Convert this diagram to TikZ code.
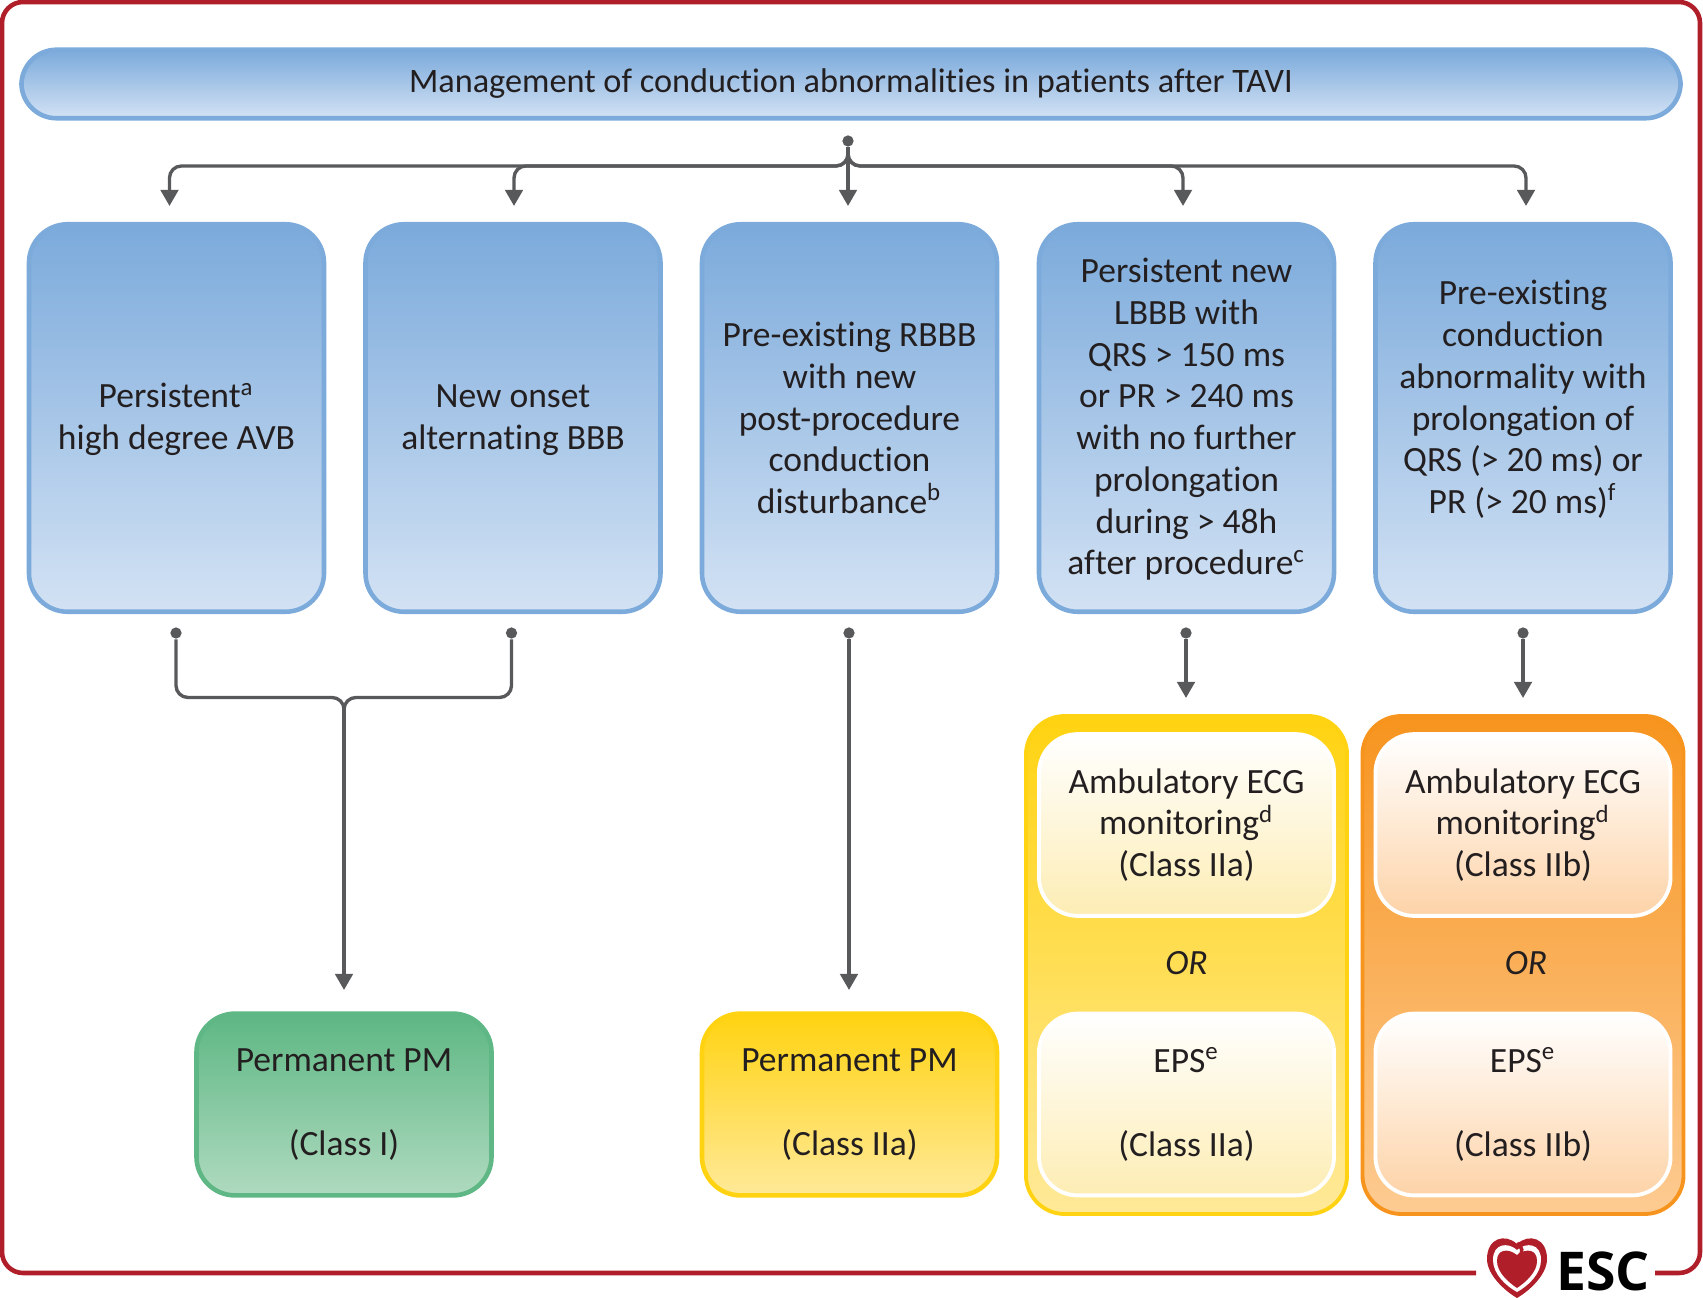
\documentclass[tikz,border=0pt]{standalone}
\usepackage{fontspec}
\setmainfont[Ligatures=NoCommon]{Carlito}
\newfontfamily\logofont{Open Sans}
\usetikzlibrary{shadings}
\usetikzlibrary{arrows.meta}
\definecolor{frameRed}{HTML}{B01E2A}
\definecolor{flowGrey}{HTML}{58595B}
\definecolor{inkBlack}{HTML}{231F20}
\definecolor{blueTop}{HTML}{7BAADB}
\definecolor{blueEnd}{HTML}{D3E2F4}
\definecolor{greenTop}{HTML}{5EB784}
\definecolor{greenEnd}{HTML}{AFDABF}
\definecolor{yellowTop}{HTML}{FFD311}
\definecolor{yellowEnd}{HTML}{FFE999}
\definecolor{paleYellow}{HTML}{FDEDB4}
\definecolor{orangeTop}{HTML}{F7941E}
\definecolor{orangeEnd}{HTML}{FDCB92}
\definecolor{paleOrange}{HTML}{FDD3A8}
\newcommand{\firstline}{\rule{0pt}{7.8pt}}
\tikzset{
    >={Triangle[length=4.6pt,width=5pt]},
    label text/.style={text=inkBlack,align=center,font=\fontsize{10.1}{11.87}\selectfont,inner sep=0pt},
    blue box/.style={label text,draw=blueTop,line width=1.3pt,rounded corners=11pt,top color=blueTop,bottom color=blueEnd,minimum width=83.9pt,minimum height=110.2pt},
    class box/.style={label text,line width=1.1pt,rounded corners=11pt,minimum width=83.9pt,minimum height=51.7pt},
    outer box/.style={line width=1.1pt,rounded corners=11pt,minimum width=91.3pt,minimum height=141.6pt},
    flow/.style={draw=flowGrey,line width=.95pt,rounded corners=3.4pt},
    dot/.style={circle,fill=flowGrey,inner sep=0pt,minimum size=3.2pt},
}
\begin{document}
\begin{tikzpicture}[x=.01cm,y=-.01cm]
    \useasboundingbox (0,0) rectangle (1703,1298);
    % frame with a gap for the logo
    \coordinate (frameStart) at (1476,1273);
    \coordinate (frameEnd) at (1655,1273);
    \draw[frameRed,line width=1.3pt,rounded corners=6pt] (frameStart) -- (2,1273) -- (2,2) -- (1700,2) -- (1700,1273) -- (frameEnd);
    % title
    \node[label text,font=\fontsize{9.75}{11.87}\selectfont,draw=blueTop,line width=1.3pt,rounded corners=10pt,top color=blueTop,bottom color=blueEnd,minimum width=471.8pt,minimum height=19.5pt] (title) at (851,84) {Management of conduction abnormalities in patients after TAVI};
    % upper row
    \node[blue box] (avb) at (176.5,418) {\firstline Persistent\textsuperscript{a}\\high degree AVB};
    \node[blue box] (bbb) at (513,418) {\firstline New onset\\alternating BBB};
    \node[blue box] (rbbb) at (849.5,418) {Pre-existing RBBB\\with new\\post-procedure\\conduction\\disturbance\textsuperscript{b}};
    \node[blue box] (lbbb) at (1186.5,418) {\firstline Persistent new\\LBBB with\\QRS > 150 ms\\or PR > 240 ms\\with no further\\prolongation\\during > 48h\\after procedure\textsuperscript{c}};
    \node[blue box] (pre) at (1523,418) {Pre-existing\\conduction\\abnormality with\\prolongation of\\QRS (> 20 ms) or\\PR (> 20 ms)\textsuperscript{f}\\~};
    % lower row
    \node[class box,line width=1.3pt,draw=greenTop,top color=greenTop,bottom color=greenEnd] (pmI) at (344,1104.5) {Permanent PM\\~\\(Class I)};
    \node[class box,line width=1.3pt,draw=yellowTop,top color=yellowTop,bottom color=yellowEnd] (pmII) at (849.5,1104.5) {Permanent PM\\~\\(Class IIa)};
    \node[outer box,draw=yellowTop,top color=yellowTop,bottom color=yellowEnd] (yellowBack) at (1186.5,965) {};
    \node[outer box,draw=orangeTop,top color=orangeTop,bottom color=orangeEnd] (orangeBack) at (1523,965) {};
    \node[class box,draw=white,top color=white,bottom color=paleYellow] (ecgA) at (1186.5,825) {Ambulatory ECG\\monitoring\textsuperscript{d}\\(Class IIa)};
    \node[class box,draw=white,top color=white,bottom color=paleOrange] (ecgB) at (1523,825) {Ambulatory ECG\\monitoring\textsuperscript{d}\\(Class IIb)};
    \node[class box,draw=white,top color=white,bottom color=paleYellow] (epsA) at (1186.5,1104.5) {EPS\textsuperscript{e}\\~\\(Class IIa)};
    \node[class box,draw=white,top color=white,bottom color=paleOrange] (epsB) at (1523,1104.5) {EPS\textsuperscript{e}\\~\\(Class IIb)};
    \node[label text,font=\fontsize{10.1}{11.87}\selectfont\itshape] (orA) at (1186.5,963) {OR};
    \node[label text,font=\fontsize{10.1}{11.87}\selectfont\itshape] (orB) at (1526,963) {OR};
    % arrows from the title
    \node[dot] (topDot) at (848,141) {};
    \coordinate (hub) at (848,157);
    \coordinate (hubLine) at (848,166);
    \foreach \name/\x in {tipA/169.5,tipB/514,tipC/848,tipD/1183,tipE/1526}
        \coordinate (\name) at (\x,206);
    \draw[flow,->] (hub) -- (hubLine) -| (tipA);
    \draw[flow,->] (hub) -- (hubLine) -| (tipB);
    \draw[flow,->] (topDot) -- (tipC);
    \draw[flow,->] (hub) -- (hubLine) -| (tipD);
    \draw[flow,->] (hub) -- (hubLine) -| (tipE);
    % arrows to the outcomes
    \foreach \name/\x in {dotA/176,dotB/511.5,dotC/849,dotD/1186,dotE/1523}
        \node[dot] (\name) at (\x,633) {};
    \coordinate (merge) at (344,697.5);
    \coordinate (mergeStem) at (344,708);
    \coordinate (mergeEnd) at (344,990);
    \draw[flow] (dotA) |- (merge) -- (mergeStem);
    \draw[flow] (dotB) |- (merge) -- (mergeStem);
    \draw[flow,->] (mergeStem) -- (mergeEnd);
    \coordinate (tipF) at (849,990);
    \coordinate (tipG) at (1186,698);
    \coordinate (tipH) at (1523,698);
    \draw[flow,->] (dotC) -- (tipF);
    \draw[flow,->] (dotD) -- (tipG);
    \draw[flow,->] (dotE) -- (tipH);
    % logo
    \fill[frameRed] (1517,1244) .. controls (1505,1233) and (1487,1238) .. (1487,1259) .. controls (1487,1275) and (1505,1291) .. (1517,1298) .. controls (1529,1291) and (1547,1275) .. (1547,1259) .. controls (1547,1238) and (1529,1233) .. (1517,1244) -- cycle;
    \fill[white] (1517,1250) .. controls (1508,1242) and (1493,1243) .. (1493,1260) .. controls (1493,1274) and (1506,1286) .. (1517,1292) .. controls (1528,1286) and (1541,1274) .. (1541,1260) .. controls (1541,1243) and (1526,1242) .. (1517,1250) -- cycle;
    \fill[frameRed] (1517,1255) .. controls (1508,1248) and (1497,1249) .. (1497,1261) .. controls (1497,1272) and (1508,1282) .. (1517,1288) .. controls (1526,1282) and (1537,1272) .. (1537,1261) .. controls (1537,1249) and (1526,1248) .. (1517,1255) -- cycle;
    \draw[frameRed,line width=1pt] (1517,1243) .. controls (1522,1247) and (1524,1252) .. (1519,1256);
    \node[inner sep=0pt,text=black,font=\logofont\bfseries\fontsize{15.2}{15.2}\selectfont] (logoText) at (1603,1271) {ESC};
\end{tikzpicture}
\end{document}
